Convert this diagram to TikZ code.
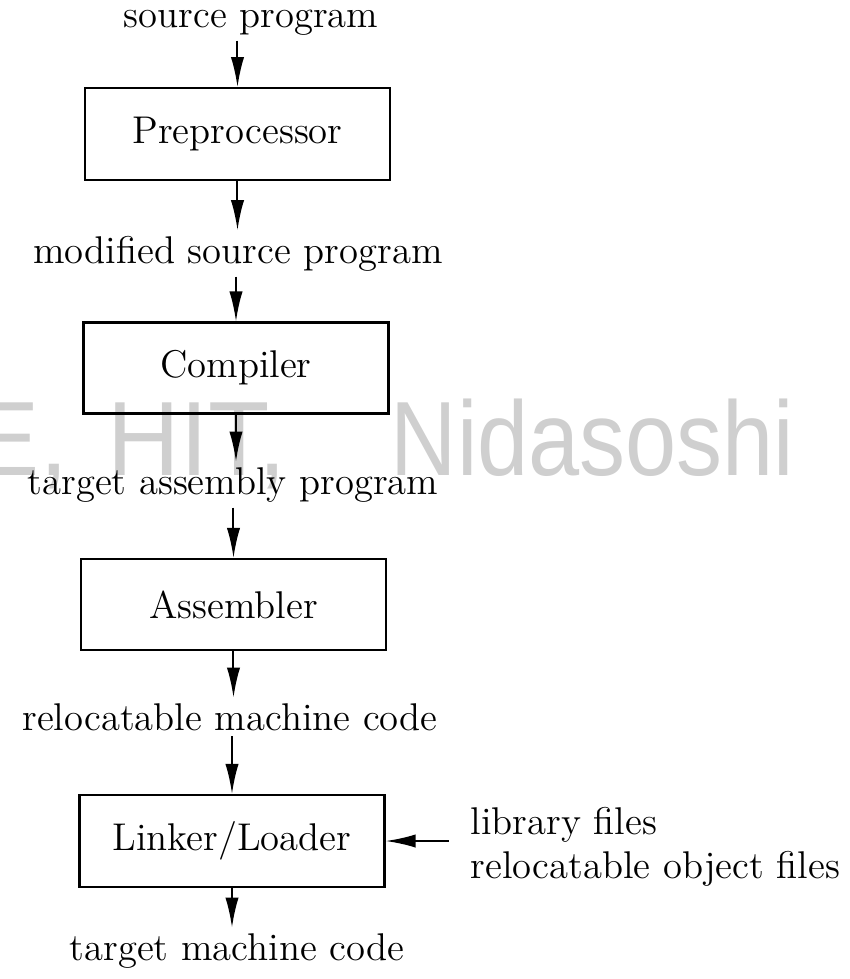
\documentclass[tikz,border=0pt]{standalone}
\usepackage{graphicx}
\usepackage{fontspec}
\newfontfamily\wmfont{Liberation Sans}
\usetikzlibrary{arrows.meta}
\definecolor{wmgray}{RGB}{207,207,207}
\begin{document}
\begin{tikzpicture}[x=0.3pt,y=-0.3pt,
  txt/.style={font=\fontsize{11.6}{13}\selectfont},
  box/.style={draw, line width=0.7pt, minimum width=91.5pt, inner sep=0pt, txt},
  lbl/.style={inner sep=1.5pt, txt},
  wm/.style={text=wmgray, inner sep=0pt, font=\wmfont\fontsize{31.7}{34}\selectfont},
  arr/.style={line width=0.6pt, -{Latex[length=9pt,width=4pt]}}]
\useasboundingbox (0,0) rectangle (850,979);
% watermark
\node[wm, anchor=base east] (wmE) at (70,475) {E,};
\node[wm, anchor=base west] (wmH) at (107,475) {\scalebox{0.95}[1]{HIT,}};
\node[wm, anchor=base east] (wmN) at (795,475) {\scalebox{0.87}[1]{Nidasoshi}};
% boxes
\node[box, minimum height=27.5pt] (pre)  at (237.5,134) {Preprocessor};
\node[box, minimum height=27.3pt] (comp) at (236,368)   {Compiler};
\node[box, minimum height=27.3pt] (asm)  at (233.5,604.5) {Assembler};
\node[box, minimum height=27.6pt] (link) at (232,841)   {Linker/Loader};
% labels
\node[lbl, anchor=base] (src) at (251,27)  {source program};
\node[lbl, anchor=base] (mod) at (238,263) {modified source program};
\node[lbl, anchor=base] (tap) at (233,494) {target assembly program};
\node[lbl, anchor=base] (rmc) at (230,730) {relocatable machine code};
\node[lbl, anchor=base] (tmc) at (237,960) {target machine code};
\node[lbl, anchor=base west, inner sep=0pt] (lib) at (470,834) {library files};
\node[lbl, anchor=base west, inner sep=0pt] (rof) at (470,878) {relocatable object files};
\coordinate (libin) at (449,841);
% connectors
\draw[arr] (src.south -| pre.north) -- (pre.north);
\draw[arr] (pre.south) -- (pre.south |- mod.north);
\draw[arr] (mod.south -| comp.north) -- (comp.north);
\draw[arr] (comp.south) -- (comp.south |- tap.north);
\draw[arr] (tap.south -| asm.north) -- (asm.north);
\draw[arr] (asm.south) -- (asm.south |- rmc.north);
\draw[arr] (rmc.south -| link.north) -- (link.north);
\draw[arr] (link.south) -- (link.south |- tmc.north);
\draw[arr] (libin |- link.east) -- (link.east);
\end{tikzpicture}
\end{document}
